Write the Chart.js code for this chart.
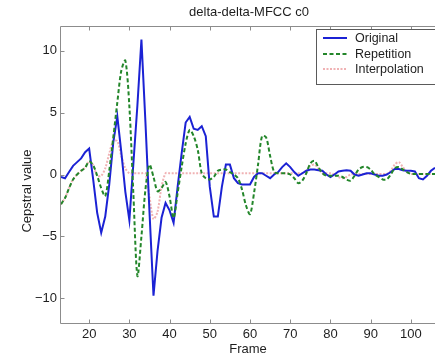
<!DOCTYPE html>
<html><head><meta charset="utf-8">
<script src="https://cdn.jsdelivr.net/npm/chart.js@4.4.0/dist/chart.umd.min.js"></script>
<style>html,body{margin:0;padding:0;background:#fff;}canvas{display:block;}</style>
</head><body>
<canvas id="c" width="435" height="358"></canvas>
<script>
const chartTitle = 'delta-delta-MFCC c0';
const xTitle = 'Frame';
const yTitle = 'Cepstral value';
const seriesNames = ['Original', 'Repetition', 'Interpolation'];

const frames = [13,14,15,16,17,18,19,20,21,22,23,24,25,26,27,28,29,30,31,32,33,34,35,36,37,38,39,40,
  41,42,43,44,45,46,47,48,49,50,51,52,53,54,55,56,57,58,59,60,61,62,63,64,65,66,67,68,69,70,
  71,72,73,74,75,76,77,78,79,80,81,82,83,84,85,86,87,88,89,90,91,92,93,94,95,96,97,98,99,100,
  101,102,103,104,105,106];

const original = [-0.2,-0.3,0.2,0.7,1.0,1.3,1.8,2.1,-0.4,-3.1,-4.7,-3.4,-0.8,2.6,4.7,1.8,-1.4,-3.7,0.9,5.6,
  10.9,4.2,-3.0,-9.8,-6.2,-3.5,-2.3,-2.9,-3.9,-1.0,1.7,4.2,4.65,3.7,3.6,3.9,3.1,-1.0,-3.4,-3.4,
  -1.0,0.8,0.8,-0.3,-0.7,-0.8,-0.8,-0.8,-0.2,0.1,0.1,-0.1,-0.3,0.0,0.2,0.6,0.9,0.6,0.2,-0.1,
  0.1,0.3,0.4,0.4,0.35,0.3,0.0,-0.2,0.0,0.25,0.3,0.35,0.3,0.0,-0.1,0.0,0.1,0.1,0.0,-0.1,
  -0.1,0.0,0.2,0.45,0.45,0.35,0.3,0.3,0.25,-0.3,-0.4,-0.1,0.3,0.55];

const repetition = [-2.4,-1.9,-1.1,-0.4,0.0,0.3,0.55,1.05,0.75,-0.1,-1.1,-1.75,0.3,3.0,5.8,8.4,9.2,5.5,-1.6,-8.2,
  -5.0,-1.2,0.8,-0.2,-1.35,-1.1,-0.6,-1.8,-3.5,-1.5,0.6,2.5,3.6,3.1,2.0,0.1,-0.3,-0.4,-0.2,0.3,
  0.4,0.4,0.2,0.0,-0.3,-1.2,-2.5,-3.2,-1.5,0.8,3.1,3.0,1.5,0.2,0.1,0.1,0.1,0.0,-0.3,-0.7,
  -0.5,0.1,0.9,1.1,0.6,0.1,-0.1,-0.1,-0.1,-0.1,-0.2,-0.4,-0.5,-0.1,0.4,0.6,0.6,0.4,0.0,-0.2,
  -0.4,-0.4,0.0,0.5,0.6,0.4,0.2,0.05,0.05,0.05,0.05,0.05,0.05,0.05];

const interpolation = [-2.4,-1.9,-1.1,-0.4,0.0,0.3,0.55,1.05,0.75,-0.1,-0.1,0.5,1.7,2.7,2.7,1.5,0.5,0.1,0.1,0.1,
  0.1,0.1,-1.8,-3.6,-3.0,-1.0,0.1,0.1,0.1,0.1,0.1,0.1,0.1,0.1,0.1,0.1,0.1,0.1,0.1,0.1,
  0.1,0.1,0.1,0.1,0.1,0.1,0.1,0.1,0.1,0.1,0.1,0.1,0.1,0.1,0.1,0.1,0.1,0.1,0.1,0.1,
  0.1,0.3,0.7,0.8,0.5,0.1,0.1,0.1,0.0,-0.2,-0.3,-0.2,0.0,0.05,0.05,0.05,0.05,0.05,0.05,0.05,
  0.05,0.05,0.3,0.8,1.0,0.6,0.2,0.05,0.05,0.05,0.05,0.05,0.05,0.05];

const xTicks = [20,30,40,50,60,70,80,90,100];
const yTicks = [-10,-5,0,5,10];

const FONT = '"Liberation Sans", Arial, Helvetica, sans-serif';
const TXT = '#1e1e1e';
const colors = ['#1b22d4', '#23862a', '#f0b2b4'];
const dashes = [[], [4, 2.5], [2, 1.5]];
const widths = [2, 2, 2];

const pts = arr => frames.map((f, i) => ({x: f, y: arr[i]}));

const decor = {
  id: 'decor',
  afterDraw(chart) {
    const {ctx, chartArea: a, scales: {x, y}} = chart;
    ctx.save();
    // axes box
    ctx.strokeStyle = '#8c8c8c';
    ctx.lineWidth = 1;
    ctx.beginPath();
    ctx.moveTo(a.right, a.top - 0.5 + 1);
    ctx.lineTo(a.left - 0.5, a.top + 0.5);
    ctx.lineTo(a.left - 0.5, a.bottom + 0.5);
    ctx.lineTo(a.right, a.bottom + 0.5);
    ctx.stroke();
    // inner ticks
    ctx.beginPath();
    xTicks.forEach(v => {
      const px = Math.round(x.getPixelForValue(v)) + 0.5;
      ctx.moveTo(px, a.bottom + 0.5); ctx.lineTo(px, a.bottom - 3.5);
      ctx.moveTo(px, a.top + 0.5); ctx.lineTo(px, a.top + 4.5);
    });
    yTicks.forEach(v => {
      const py = Math.round(y.getPixelForValue(v)) + 0.5;
      ctx.moveTo(a.left - 0.5, py); ctx.lineTo(a.left + 3.5, py);
    });
    ctx.stroke();

    // title
    ctx.fillStyle = TXT;
    ctx.font = '13px ' + FONT;
    ctx.textAlign = 'center';
    ctx.textBaseline = 'middle';
    ctx.fillText(chartTitle, (a.left + a.right) / 2 + 1, 12.5);

    // y title
    ctx.save();
    ctx.translate(27, 191);
    ctx.rotate(-Math.PI / 2);
    ctx.fillText(yTitle, 0, 0);
    ctx.restore();

    // legend
    const lx = 316.5, ly = 29.5, lw = 125, lh = 55;
    ctx.fillStyle = '#ffffff';
    ctx.fillRect(lx, ly, lw, lh);
    ctx.strokeStyle = '#5a5a5a';
    ctx.lineWidth = 1;
    ctx.strokeRect(lx, ly, lw, lh);
    const rows = [38, 54, 69];
    ctx.font = '12.5px ' + FONT;
    ctx.textAlign = 'left';
    ctx.textBaseline = 'middle';
    seriesNames.forEach((name, i) => {
      ctx.strokeStyle = colors[i];
      ctx.lineWidth = widths[i];
      ctx.setLineDash(dashes[i]);
      ctx.beginPath();
      ctx.moveTo(323, rows[i]); ctx.lineTo(347, rows[i]);
      ctx.stroke();
      ctx.setLineDash([]);
      ctx.fillStyle = TXT;
      ctx.fillText(name, 355, rows[i] + 0.5);
    });
    ctx.restore();
  }
};

new Chart(document.getElementById('c'), {
  type: 'line',
  data: {
    datasets: [
      {label: seriesNames[0], data: pts(original), borderColor: colors[0], borderWidth: widths[0],
       borderDash: dashes[0], pointRadius: 0, tension: 0, order: 1},
      {label: seriesNames[1], data: pts(repetition), borderColor: colors[1], borderWidth: widths[1],
       borderDash: dashes[1], pointRadius: 0, tension: 0.3, order: 0},
      {label: seriesNames[2], data: pts(interpolation), borderColor: colors[2], borderWidth: widths[2],
       borderDash: dashes[2], pointRadius: 0, tension: 0.3, order: 2}
    ]
  },
  options: {
    responsive: false,
    animation: false,
    devicePixelRatio: 1,
    layout: {padding: {top: 26, right: 0, bottom: 0, left: 0}},
    plugins: {legend: {display: false}, title: {display: false}, tooltip: {enabled: false}},
    scales: {
      x: {
        type: 'linear', min: 13, max: 106,
        afterBuildTicks: s => { s.ticks = xTicks.map(v => ({value: v})); },
        afterFit: s => { s.height = 35; },
        grid: {display: false, drawTicks: false},
        border: {display: false},
        ticks: {font: {family: FONT, size: 13}, color: TXT, padding: 4, maxRotation: 0, autoSkip: false, includeBounds: false},
        title: {display: true, text: xTitle, font: {family: FONT, size: 13}, color: TXT, padding: {top: 1, bottom: 1}}
      },
      y: {
        type: 'linear', min: -12, max: 12,
        afterBuildTicks: s => { s.ticks = yTicks.map(v => ({value: v})); },
        afterFit: s => { s.width = 61; },
        grid: {display: false, drawTicks: false},
        border: {display: false},
        ticks: {font: {family: FONT, size: 13}, color: TXT, padding: 4, includeBounds: false,
                callback: v => (v < 0 ? '\u2212' + Math.abs(v) : String(v))}
      }
    }
  },
  plugins: [decor]
});
</script>
</body></html>
